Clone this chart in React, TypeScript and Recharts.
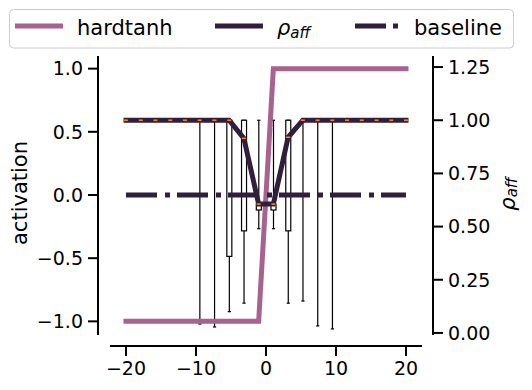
import React from "react";
import { ComposedChart, Line, Bar, Scatter, XAxis, YAxis } from "recharts";

// ---- data ----
const positions = [-20, -17.89, -15.79, -13.68, -11.58, -9.47, -7.37, -5.26, -3.16, -1.05, 1.05, 3.16, 5.26, 7.37, 9.47, 11.58, 13.68, 15.79, 17.89, 20];
const hardtanhValues = [-1, -1, -1, -1, -1, -1, -1, -1, -1, -1, 1, 1, 1, 1, 1, 1, 1, 1, 1, 1];
const baselineValues = [0, 0, 0, 0, 0, 0, 0, 0, 0, 0, 0, 0, 0, 0, 0, 0, 0, 0, 0, 0];
const rhoMedian = [1, 1, 1, 1, 1, 1, 1, 1, 0.915, 0.606, 0.606, 0.92, 1, 1, 1, 1, 1, 1, 1, 1];
const rhoQ3 = [1, 1, 1, 1, 1, 1, 1, 1, 1, 0.606, 0.606, 1, 1, 1, 1, 1, 1, 1, 1, 1];
const rhoQ1 = [1, 1, 1, 1, 1, 1, 1, 0.36, 0.48, 0.578, 0.578, 0.48, 1, 1, 1, 1, 1, 1, 1, 1];
const rhoWhiskerLow = [1, 1, 1, 1, 1, 0.042, 0.028, 0.1, 0.14, 0.49, 0.49, 0.14, 0.15, 0.033, 0.019, 1, 1, 1, 1, 1];
const rhoWhiskerHigh = [1, 1, 1, 1, 1, 1, 1, 1, 1, 1, 1, 1, 1, 1, 1, 1, 1, 1, 1, 1];

const xTicks = [-20, -10, 0, 10, 20];
const leftTicks = [-1, -0.5, 0, 0.5, 1];
const rightTicks = [0, 0.25, 0.5, 0.75, 1, 1.25];

const chartData = positions.map((x, i) => ({
  x,
  hardtanh: hardtanhValues[i],
  baseline: baselineValues[i],
  rho: rhoMedian[i],
  med: rhoMedian[i],
  q1: rhoQ1[i],
  q3: rhoQ3[i],
  wlo: rhoWhiskerLow[i],
  whi: rhoWhiskerHigh[i],
  range: [rhoWhiskerLow[i], rhoWhiskerHigh[i]],
}));

// ---- styles ----
const MAUVE = "#a7628f";
const DARK = "#2f1f3d";
const ORANGE = "#ff7f0e";
const FONT = "DejaVu Sans";
const TICK_FS = 19;
const LABEL_FS = 21;

const fmt = (v: number, d: number) => (v < 0 ? "\u2212" : "") + Math.abs(v).toFixed(d);

const BoxShape = (props: any) => {
  const { x, y, width, height, payload } = props;
  if (!payload) return null;
  const { wlo, whi, q1, q3 } = payload;
  if (!(whi > wlo)) return null;
  const py = (v: number) => y + (height * (whi - v)) / (whi - wlo);
  const cx = x + width / 2;
  const cap = 1.6;
  const sw = 1.2;
  return (
    <g>
      <line x1={cx} x2={cx} y1={py(whi)} y2={py(q3)} stroke="#000" strokeWidth={sw} />
      <line x1={cx} x2={cx} y1={py(q1)} y2={py(wlo)} stroke="#000" strokeWidth={sw} />
      <line x1={cx - cap} x2={cx + cap} y1={py(wlo)} y2={py(wlo)} stroke="#000" strokeWidth={sw} />
      <line x1={cx - cap} x2={cx + cap} y1={py(whi)} y2={py(whi)} stroke="#000" strokeWidth={sw} />
      {q3 > q1 && (
        <rect x={x} y={py(q3)} width={width} height={py(q1) - py(q3)} fill="#fff" stroke="#000" strokeWidth={sw} />
      )}
    </g>
  );
};

const MedianShape = (props: any) => {
  const { cx, cy } = props;
  if (cx == null || cy == null) return null;
  return <line x1={cx - 2} x2={cx + 2} y1={cy} y2={cy} stroke={ORANGE} strokeWidth={1.6} />;
};

const LeftLabel = () => (
  <text x={20} y={193} transform="rotate(-90, 20, 193)" textAnchor="middle" dominantBaseline="central" fontSize={LABEL_FS} fontFamily={FONT} fill="#000">
    activation
  </text>
);

const RightLabel = () => (
  <text x={508} y={194} transform="rotate(-90, 508, 194)" textAnchor="middle" dominantBaseline="central" fontSize={LABEL_FS} fontFamily={FONT} fill="#000">
    <tspan fontStyle="italic">ρ</tspan>
    <tspan fontStyle="italic" fontSize={15} dy={4}>aff</tspan>
  </text>
);

const Legend = () => (
  <svg width={532} height={52} style={{ position: "absolute", left: 0, top: 0, pointerEvents: "none" }}>
    <rect x={9.5} y={9.5} width={504} height={38.5} rx={4} fill="#fff" fillOpacity={0.8} stroke="#cccccc" strokeWidth={1} />
    <line x1={15} x2={63} y1={26} y2={26} stroke={MAUVE} strokeWidth={5} />
    <text x={77} y={35} fontSize={LABEL_FS} fontFamily={FONT} fill="#000">hardtanh</text>
    <line x1={215} x2={263} y1={26} y2={26} stroke={DARK} strokeWidth={5} />
    <text x={277} y={35} fontSize={LABEL_FS} fontFamily={FONT} fill="#000">
      <tspan fontStyle="italic">ρ</tspan>
      <tspan fontStyle="italic" fontSize={15} dy={3}>aff</tspan>
    </text>
    <line x1={355} x2={398} y1={26} y2={26} stroke={DARK} strokeWidth={5} strokeDasharray="31 7 5 20" />
    <text x={414} y={35} fontSize={LABEL_FS} fontFamily={FONT} fill="#000">baseline</text>
  </svg>
);

export default function App() {
  return (
    <div style={{ position: "absolute", left: 0, top: 0, width: 532, height: 390, background: "#fff", fontFamily: FONT }}>
      <ComposedChart
        width={532}
        height={390}
        data={chartData}
        margin={{ top: 56, right: 0, bottom: 0, left: 0 }}
        style={{ fontFamily: FONT }}
      >
        <XAxis
          dataKey="x"
          type="number"
          domain={[-22, 22]}
          ticks={xTicks}
          allowDataOverflow
          padding={{ left: 14, right: 13 }}
          height={44}
          tickFormatter={(v: number) => fmt(v, 0)}
          tick={{ fill: "#000", fontSize: TICK_FS, fontFamily: FONT }}
          tickSize={10}
          tickMargin={6}
          stroke="#000"
          tickLine={{ stroke: "#000", strokeWidth: 2 }}
          axisLine={{ stroke: "#000", strokeWidth: 2, strokeDasharray: "0 12 312 400" }}
        />
        <YAxis
          yAxisId="left"
          orientation="left"
          type="number"
          domain={[-1.1, 1.1]}
          ticks={leftTicks}
          allowDataOverflow
          padding={{ top: 0, bottom: 12 }}
          width={98}
          tickFormatter={(v: number) => fmt(v, 1)}
          tick={{ fill: "#000", fontSize: TICK_FS, fontFamily: FONT }}
          tickSize={10}
          tickMargin={5}
          stroke="#000"
          tickLine={{ stroke: "#000", strokeWidth: 2 }}
          axisLine={{ stroke: "#000", strokeWidth: 2, strokeDasharray: "279 400" }}
          label={{ content: <LeftLabel /> }}
        />
        <YAxis
          yAxisId="right"
          orientation="right"
          type="number"
          domain={[-0.005, 1.302]}
          ticks={rightTicks}
          allowDataOverflow
          padding={{ top: 0, bottom: 12 }}
          width={99}
          tickFormatter={(v: number) => fmt(v, 2)}
          tick={{ fill: "#000", fontSize: TICK_FS, fontFamily: FONT }}
          tickSize={10}
          tickMargin={5}
          stroke="#000"
          tickLine={{ stroke: "#000", strokeWidth: 2 }}
          axisLine={{ stroke: "#000", strokeWidth: 2, strokeDasharray: "279 400" }}
          label={{ content: <RightLabel /> }}
        />
        <Bar yAxisId="right" dataKey="range" barSize={5} shape={<BoxShape />} isAnimationActive={false} />
        <Line yAxisId="left" dataKey="hardtanh" stroke={MAUVE} strokeWidth={5} dot={false} strokeLinecap="square" isAnimationActive={false} />
        <Line yAxisId="right" dataKey="rho" stroke={DARK} strokeWidth={5} dot={false} strokeLinecap="square" isAnimationActive={false} />
        <Line yAxisId="left" dataKey="baseline" stroke={DARK} strokeWidth={5} strokeDasharray="31 8 5 7" dot={false} isAnimationActive={false} />
        <Scatter yAxisId="right" dataKey="med" data={chartData} shape={<MedianShape />} isAnimationActive={false} />
      </ComposedChart>
      <Legend />
    </div>
  );
}
